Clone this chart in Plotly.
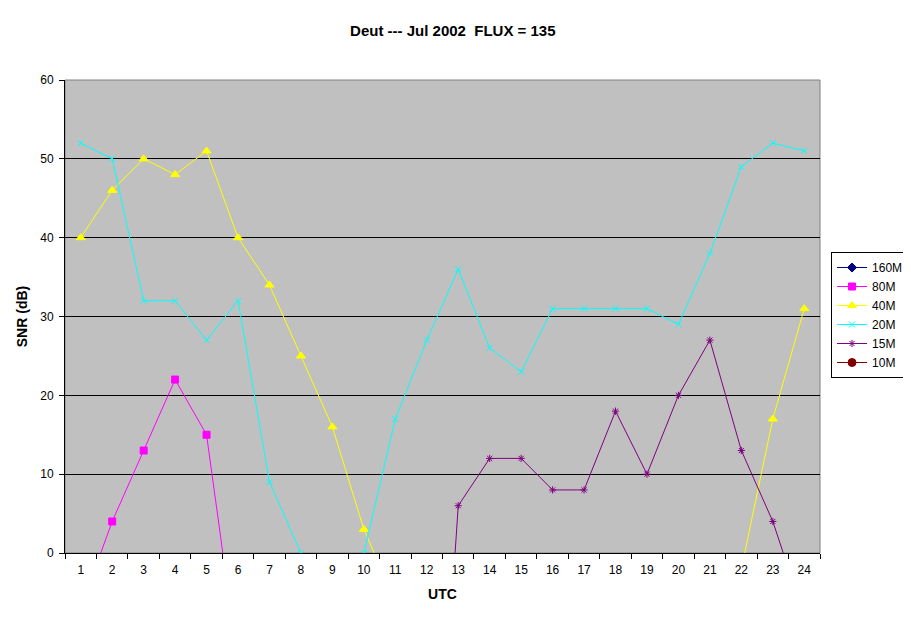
import plotly.graph_objects as go

# UTC hours on the category axis
hours = [str(h) for h in range(1, 25)]

# SNR (dB) per band, values below 0 are off the chart (clipped like in Excel)
snr_160m = [None] * 24
snr_80m = [-7, 4, 13, 22, 15, -14, None, None, None, None, None, None,
           None, None, None, None, None, None, None, None, None, None, None, None]
snr_40m = [40, 46, 50, 48, 51, 40, 34, 25, 16, 3, -6, None,
           None, None, None, None, None, None, None, None, None, -2, 17, 31]
snr_20m = [52, 50, 32, 32, 27, 32, 9, 0, -10, 0, 17, 27,
           36, 26, 23, 31, 31, 31, 31, 29, 38, 49, 52, 51]
snr_15m = [None, None, None, None, None, None, None, None, None, None, None, -54,
           6, 12, 12, 8, 8, 18, 10, 20, 27, 13, 4, -8]
snr_10m = [None] * 24

bands = ["160M", "80M", "40M", "20M", "15M", "10M"]
series = [snr_160m, snr_80m, snr_40m, snr_20m, snr_15m, snr_10m]
colors = ["#000080", "#FF00FF", "#FFFF00", "#00FFFF", "#800080", "#800000"]
symbols = ["diamond", "square", "triangle-up", "x-thin-open", "asterisk-open", "circle"]
sizes = [7, 7, 8, 6, 6, 8]

fig = go.Figure()
for name, vals, col, sym, sz in zip(bands, series, colors, symbols, sizes):
    fig.add_trace(go.Scatter(
        x=hours, y=vals, name=name, mode="lines+markers",
        line=dict(color=col, width=1),
        marker=dict(symbol=sym, size=sz, color=col, line=dict(color=col, width=1)),
    ))

# page has an 8px body margin, so the figure is a bit smaller than the window
fig.update_layout(
    width=895, height=607,
    margin=dict(l=57, r=83, t=72, b=62),
    paper_bgcolor="white",
    plot_bgcolor="#C0C0C0",
    font=dict(family="Liberation Sans, Arial, sans-serif", size=12, color="black"),
    title=dict(text="<b>Deut --- Jul 2002  FLUX = 135</b>", x=0.497, xanchor="center",
               y=0.962, yanchor="middle", font=dict(size=15)),
    showlegend=True,
    legend=dict(xref="container", yref="container", x=0.9196, xanchor="left",
                y=0.598, yanchor="top",
                bgcolor="white", bordercolor="black", borderwidth=1,
                font=dict(size=12), tracegroupgap=0),
    xaxis=dict(
        type="category", range=[-0.5, 23.5], tickson="boundaries",
        ticks="outside", ticklen=5, tickcolor="black", ticklabelstandoff=6,
        showline=True, linecolor="black", linewidth=1,
        showgrid=False, title=dict(text="<b>UTC</b>", standoff=12),
    ),
    yaxis=dict(
        range=[0, 60], dtick=10, ticks="outside", ticklen=5, tickcolor="black",
        ticklabelstandoff=3,
        showline=True, linecolor="black", linewidth=1,
        showgrid=True, gridcolor="black", gridwidth=1, zeroline=False,
        title=dict(text="<b>SNR (dB)</b>", standoff=9),
    ),
    shapes=[dict(type="rect", xref="paper", yref="paper", x0=0, x1=1, y0=0, y1=1,
                 line=dict(color="#808080", width=1), layer="below")],
)

fig.write_html("out.html")
